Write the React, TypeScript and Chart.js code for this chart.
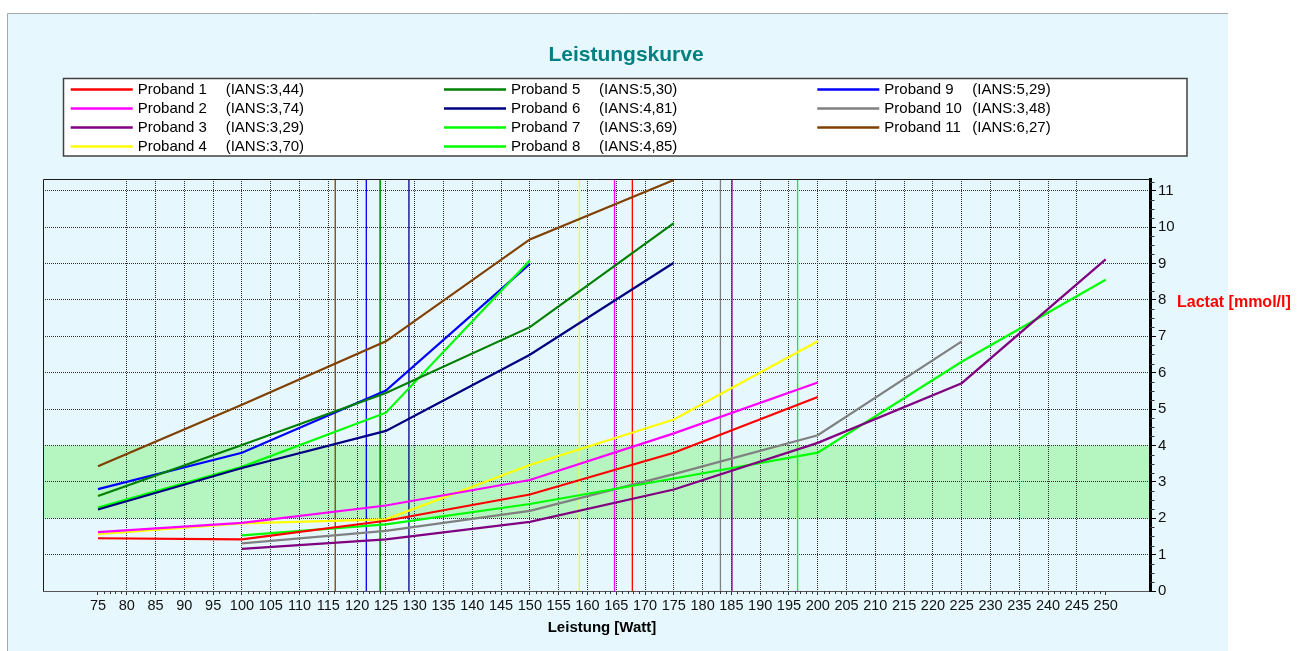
import React, { useEffect, useRef } from 'react';
import { Chart, registerables } from 'chart.js';

Chart.register(...registerables);

// ---------- texts ----------
const TITLE = 'Leistungskurve';
const X_TITLE = 'Leistung [Watt]';
const Y_TITLE = 'Lactat [mmol/l]';

// ---------- legend / series meta ----------
const probandNames = [
  'Proband 1', 'Proband 2', 'Proband 3', 'Proband 4', 'Proband 5', 'Proband 6',
  'Proband 7', 'Proband 8', 'Proband 9', 'Proband 10', 'Proband 11',
];
const iansLabels = [
  '(IANS:3,44)', '(IANS:3,74)', '(IANS:3,29)', '(IANS:3,70)', '(IANS:5,30)', '(IANS:4,81)',
  '(IANS:3,69)', '(IANS:4,85)', '(IANS:5,29)', '(IANS:3,48)', '(IANS:6,27)',
];
const seriesColors = [
  '#ff0000', '#ff00ff', '#800080', '#ffff00', '#008000', '#000080',
  '#00ff00', '#00ff00', '#0000ff', '#808080', '#804000',
];

// ---------- data: watts and lactate per proband ----------
const watts1 = [75, 100, 125, 150, 175, 200];
const lactate1 = [1.45, 1.42, 1.93, 2.65, 3.80, 5.33];
const watts2 = [75, 100, 125, 150, 175, 200];
const lactate2 = [1.62, 1.87, 2.35, 3.05, 4.33, 5.73];
const watts3 = [100, 125, 150, 175, 200, 225, 250];
const lactate3 = [1.16, 1.42, 1.90, 2.79, 4.07, 5.71, 9.11];
const watts4 = [75, 100, 125, 150, 175, 200];
const lactate4 = [1.56, 1.86, 1.97, 3.46, 4.71, 6.86];
const watts5 = [75, 100, 125, 150, 175];
const lactate5 = [2.61, 4.01, 5.44, 7.25, 10.11];
const watts6 = [75, 100, 125, 150, 175];
const lactate6 = [2.24, 3.38, 4.40, 6.49, 9.02];
const watts7 = [100, 125, 150, 175, 200, 225, 250];
const lactate7 = [1.53, 1.83, 2.39, 3.09, 3.80, 6.30, 8.55];
const watts8 = [75, 100, 125, 150];
const lactate8 = [2.29, 3.41, 4.90, 9.08];
const watts9 = [75, 100, 125, 150];
const lactate9 = [2.80, 3.80, 5.51, 8.99];
const watts10 = [100, 125, 150, 175, 200, 225];
const lactate10 = [1.31, 1.65, 2.20, 3.21, 4.28, 6.86];
const watts11 = [75, 100, 125, 150, 175];
const lactate11 = [3.43, 5.12, 6.86, 9.66, 11.29];

// IANS threshold power (vertical markers), watts
const iansWatts = [167.8, 164.7, 185.1, 158.6, 124.0, 129.0, 196.5, 124.0, 121.6, 183.1, 116.2];

const allWatts = [watts1, watts2, watts3, watts4, watts5, watts6, watts7, watts8, watts9, watts10, watts11];
const allLactate = [lactate1, lactate2, lactate3, lactate4, lactate5, lactate6, lactate7, lactate8, lactate9, lactate10, lactate11];

// ---------- axes ----------
const xTickValues = [75, 80, 85, 90, 95, 100, 105, 110, 115, 120, 125, 130, 135, 140, 145, 150, 155, 160,
  165, 170, 175, 180, 185, 190, 195, 200, 205, 210, 215, 220, 225, 230, 235, 240, 245, 250];
const yTickValues = [0, 1, 2, 3, 4, 5, 6, 7, 8, 9, 10, 11];
const X_MIN = 65.45;
const X_MAX = 257.7;
const Y_MIN = 0;
const Y_MAX = 11.32;
const bandLow = 2;
const bandHigh = 4;

const FONT = 'Liberation Sans, Arial, Helvetica, sans-serif';

const decorPlugin = {
  id: 'decor',
  beforeDraw(chart: any) {
    const ctx = chart.ctx as CanvasRenderingContext2D;
    const W = chart.width;
    const H = chart.height;
    ctx.save();
    ctx.fillStyle = '#ffffff';
    ctx.fillRect(0, 0, W, H);
    // panel
    ctx.fillStyle = '#e6f8fd';
    ctx.fillRect(7, 13, 1221, H - 13);
    ctx.strokeStyle = '#a8a8a8';
    ctx.lineWidth = 1;
    ctx.beginPath();
    ctx.moveTo(7.5, H);
    ctx.lineTo(7.5, 13.5);
    ctx.lineTo(1228, 13.5);
    ctx.stroke();

    // title
    ctx.fillStyle = '#008080';
    ctx.font = `bold 21px ${FONT}`;
    ctx.textAlign = 'center';
    ctx.textBaseline = 'alphabetic';
    ctx.fillText(TITLE, 626, 61);

    // legend box
    ctx.fillStyle = '#ffffff';
    ctx.fillRect(63.5, 78.5, 1123.5, 77.5);
    ctx.strokeStyle = '#404040';
    ctx.lineWidth = 1.5;
    ctx.strokeRect(63.5, 78.5, 1123.5, 77.5);
    ctx.font = `15px ${FONT}`;
    ctx.textAlign = 'left';
    ctx.textBaseline = 'middle';
    for (let i = 0; i < probandNames.length; i++) {
      const col = Math.floor(i / 4);
      const row = i % 4;
      const x0 = 70.7 + col * 373.3;
      const y = 89.5 + row * 19;
      ctx.strokeStyle = seriesColors[i];
      ctx.lineWidth = 2.5;
      ctx.beginPath();
      ctx.moveTo(x0, y);
      ctx.lineTo(x0 + 62, y);
      ctx.stroke();
      ctx.fillStyle = '#000000';
      ctx.fillText(probandNames[i], x0 + 67, y + 0.5);
      ctx.fillText(iansLabels[i], x0 + 155, y + 0.5);
    }

    // band 2..4 mmol/l
    const { left, right } = chart.chartArea;
    const ys = chart.scales.y;
    const yTop = ys.getPixelForValue(bandHigh);
    const yBot = ys.getPixelForValue(bandLow);
    ctx.fillStyle = '#b5f5bf';
    ctx.fillRect(left, yTop, right - left, yBot - yTop);
    ctx.restore();
  },
  afterDraw(chart: any) {
    const ctx = chart.ctx as CanvasRenderingContext2D;
    const { left, right, top, bottom } = chart.chartArea;
    const xs = chart.scales.x;
    const ys = chart.scales.y;
    ctx.save();
    // frame top & left
    ctx.strokeStyle = '#1a1a1a';
    ctx.lineWidth = 1;
    ctx.beginPath();
    ctx.moveTo(Math.round(left) + 0.5, bottom);
    ctx.lineTo(Math.round(left) + 0.5, Math.round(top) + 0.5);
    ctx.lineTo(right, Math.round(top) + 0.5);
    ctx.stroke();

    // minor ticks x (every 1 W)
    ctx.strokeStyle = '#333333';
    ctx.beginPath();
    for (let w = xTickValues[0]; w <= xTickValues[xTickValues.length - 1]; w++) {
      if (w % 5 === 0) continue;
      const px = Math.round(xs.getPixelForValue(w)) + 0.5;
      ctx.moveTo(px, bottom);
      ctx.lineTo(px, bottom + 3);
    }
    ctx.stroke();
    // minor ticks y (every 0.25)
    ctx.beginPath();
    for (let v = 0.25; v < Y_MAX; v += 0.25) {
      if (Math.abs(v - Math.round(v)) < 1e-6) continue;
      const py = Math.round(ys.getPixelForValue(v)) + 0.5;
      ctx.moveTo(right, py);
      ctx.lineTo(right + 4.5, py);
    }
    ctx.stroke();

    // axis titles
    ctx.fillStyle = '#000000';
    ctx.font = `bold 15px ${FONT}`;
    ctx.textAlign = 'center';
    ctx.textBaseline = 'alphabetic';
    ctx.fillText(X_TITLE, 602, 632);
    ctx.fillStyle = '#ff0000';
    ctx.font = `bold 16px ${FONT}`;
    ctx.textAlign = 'left';
    ctx.fillText(Y_TITLE, 1177, 306.5);
    ctx.restore();
  },
};

export default function App() {
  const ref = useRef<HTMLCanvasElement>(null);
  useEffect(() => {
    if (!ref.current) return;
    const curveSets = allWatts.map((ws, i) => ({
      label: probandNames[i],
      data: ws.map((w, k) => ({ x: w, y: allLactate[i][k] })),
      borderColor: seriesColors[i],
      backgroundColor: seriesColors[i],
      borderWidth: 2.2,
      pointRadius: 0,
      tension: 0,
      fill: false,
      order: 1,
    }));
    const markerSets = iansWatts.map((w, i) => ({
      label: probandNames[i] + ' IANS',
      data: [{ x: w, y: Y_MIN }, { x: w, y: Y_MAX }],
      borderColor: seriesColors[i],
      backgroundColor: seriesColors[i],
      borderWidth: 1.3,
      pointRadius: 0,
      fill: false,
      order: 2,
    }));
    const gridColor = '#303030';
    const chart = new Chart(ref.current, {
      type: 'line',
      data: { datasets: [...curveSets, ...markerSets] as any },
      plugins: [decorPlugin as any],
      options: {
        animation: false,
        responsive: false,
        maintainAspectRatio: false,
        devicePixelRatio: 1,
        layout: { padding: { left: 43, top: 179, right: 0, bottom: 0 } },
        plugins: {
          legend: { display: false },
          title: { display: false },
          tooltip: { enabled: false },
        },
        scales: {
          x: {
            type: 'linear',
            position: 'bottom',
            min: X_MIN,
            max: X_MAX,
            afterBuildTicks: (scale: any) => {
              scale.ticks = xTickValues.map((v) => ({ value: v }));
            },
            afterFit: (scale: any) => {
              scale.height = 60;
            },
            grid: {
              color: (c: any) =>
                c.tick && (c.tick.value === xTickValues[0] || c.tick.value === xTickValues[xTickValues.length - 1])
                  ? 'rgba(0,0,0,0)'
                  : gridColor,
              lineWidth: 1,
              tickColor: '#333333',
              tickLength: 4,
              drawTicks: true,
            },
            border: { display: true, color: '#555555', width: 1, dash: [1, 1] },
            ticks: {
              autoSkip: false,
              maxRotation: 0,
              minRotation: 0,
              padding: 2,
              color: '#111111',
              font: { family: FONT, size: 14.5 },
              callback: (v: any) => String(v),
            },
          },
          y: {
            type: 'linear',
            position: 'right',
            min: Y_MIN,
            max: Y_MAX,
            afterBuildTicks: (scale: any) => {
              scale.ticks = yTickValues.map((v) => ({ value: v }));
            },
            afterFit: (scale: any) => {
              scale.width = 155;
            },
            grid: {
              color: (c: any) => (c.tick && c.tick.value === 0 ? 'rgba(0,0,0,0)' : gridColor),
              lineWidth: 1,
              tickColor: '#000000',
              tickLength: 6,
              drawTicks: true,
            },
            border: { display: true, color: '#000000', width: 3, dash: [1, 1] },
            ticks: {
              padding: 2,
              color: '#111111',
              font: { family: FONT, size: 15 },
              callback: (v: any) => String(v),
            },
          },
        },
      } as any,
    });
    return () => chart.destroy();
  }, []);
  return (
    <div style={{ position: 'fixed', left: 0, top: 0, width: 1305, height: 651 }}>
      <canvas ref={ref} width={1305} height={651} style={{ display: 'block', width: 1305, height: 651 }} />
    </div>
  );
}
